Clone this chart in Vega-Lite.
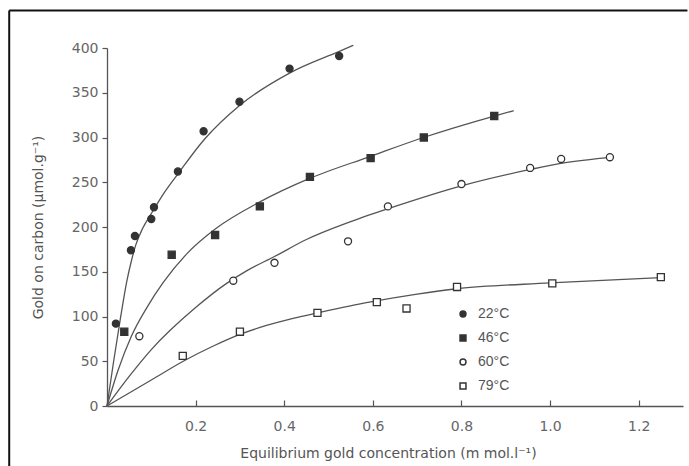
{
  "$schema": "https://vega.github.io/schema/vega-lite/v6.json",
  "width": 576,
  "height": 358,
  "autosize": {"type": "none"},
  "padding": {"left": 107, "top": 48, "right": 6, "bottom": 60},
  "background": "white",
  "config": {
    "view": {"stroke": null},
    "font": "DejaVu Sans",
    "axis": {"grid": false, "domainColor": "#555", "tickColor": "#555", "labelColor": "#666", "titleColor": "#555", "labelFontSize": 14, "titleFontSize": 14, "titleFontWeight": "normal", "domainWidth": 1.3, "tickWidth": 1.2}
  },
  "datasets": {
    "points": [
      {"x": 0.020, "y": 92, "temp": "22°C"},
      {"x": 0.054, "y": 174, "temp": "22°C"},
      {"x": 0.063, "y": 190, "temp": "22°C"},
      {"x": 0.100, "y": 209, "temp": "22°C"},
      {"x": 0.106, "y": 222, "temp": "22°C"},
      {"x": 0.160, "y": 262, "temp": "22°C"},
      {"x": 0.218, "y": 307, "temp": "22°C"},
      {"x": 0.299, "y": 340, "temp": "22°C"},
      {"x": 0.412, "y": 377, "temp": "22°C"},
      {"x": 0.524, "y": 391, "temp": "22°C"},
      {"x": 0.039, "y": 83, "temp": "46°C"},
      {"x": 0.146, "y": 169, "temp": "46°C"},
      {"x": 0.244, "y": 191, "temp": "46°C"},
      {"x": 0.345, "y": 223, "temp": "46°C"},
      {"x": 0.458, "y": 256, "temp": "46°C"},
      {"x": 0.595, "y": 277, "temp": "46°C"},
      {"x": 0.715, "y": 300, "temp": "46°C"},
      {"x": 0.874, "y": 324, "temp": "46°C"},
      {"x": 0.073, "y": 78, "temp": "60°C"},
      {"x": 0.285, "y": 140, "temp": "60°C"},
      {"x": 0.378, "y": 160, "temp": "60°C"},
      {"x": 0.544, "y": 184, "temp": "60°C"},
      {"x": 0.634, "y": 223, "temp": "60°C"},
      {"x": 0.800, "y": 248, "temp": "60°C"},
      {"x": 0.955, "y": 266, "temp": "60°C"},
      {"x": 1.025, "y": 276, "temp": "60°C"},
      {"x": 1.135, "y": 278, "temp": "60°C"},
      {"x": 0.171, "y": 56, "temp": "79°C"},
      {"x": 0.300, "y": 83, "temp": "79°C"},
      {"x": 0.475, "y": 104, "temp": "79°C"},
      {"x": 0.609, "y": 116, "temp": "79°C"},
      {"x": 0.676, "y": 109, "temp": "79°C"},
      {"x": 0.790, "y": 133, "temp": "79°C"},
      {"x": 1.005, "y": 137, "temp": "79°C"},
      {"x": 1.250, "y": 144, "temp": "79°C"}
    ],
    "curves": [
      {"x": 0, "y": 0, "series": "22"},
      {"x": 0.015, "y": 50, "series": "22"},
      {"x": 0.03, "y": 97, "series": "22"},
      {"x": 0.045, "y": 140, "series": "22"},
      {"x": 0.055, "y": 162, "series": "22"},
      {"x": 0.065, "y": 180, "series": "22"},
      {"x": 0.08, "y": 198, "series": "22"},
      {"x": 0.1, "y": 215, "series": "22"},
      {"x": 0.13, "y": 239, "series": "22"},
      {"x": 0.161, "y": 260, "series": "22"},
      {"x": 0.22, "y": 298, "series": "22"},
      {"x": 0.3, "y": 336, "series": "22"},
      {"x": 0.412, "y": 372, "series": "22"},
      {"x": 0.523, "y": 396, "series": "22"},
      {"x": 0.556, "y": 403, "series": "22"},
      {"x": 0, "y": 0, "series": "46"},
      {"x": 0.025, "y": 40, "series": "46"},
      {"x": 0.055, "y": 78, "series": "46"},
      {"x": 0.09, "y": 110, "series": "46"},
      {"x": 0.127, "y": 138, "series": "46"},
      {"x": 0.18, "y": 170, "series": "46"},
      {"x": 0.245, "y": 198, "series": "46"},
      {"x": 0.345, "y": 228, "series": "46"},
      {"x": 0.456, "y": 254, "series": "46"},
      {"x": 0.595, "y": 279, "series": "46"},
      {"x": 0.714, "y": 300, "series": "46"},
      {"x": 0.874, "y": 324, "series": "46"},
      {"x": 0.918, "y": 330, "series": "46"},
      {"x": 0, "y": 0, "series": "60"},
      {"x": 0.05, "y": 33, "series": "60"},
      {"x": 0.1, "y": 63, "series": "60"},
      {"x": 0.2, "y": 110, "series": "60"},
      {"x": 0.27, "y": 137, "series": "60"},
      {"x": 0.315, "y": 151, "series": "60"},
      {"x": 0.378, "y": 167, "series": "60"},
      {"x": 0.45, "y": 186, "series": "60"},
      {"x": 0.55, "y": 206, "series": "60"},
      {"x": 0.65, "y": 223, "series": "60"},
      {"x": 0.8, "y": 246, "series": "60"},
      {"x": 0.953, "y": 264, "series": "60"},
      {"x": 1.024, "y": 271, "series": "60"},
      {"x": 1.144, "y": 278, "series": "60"},
      {"x": 0, "y": 0, "series": "79"},
      {"x": 0.1, "y": 29, "series": "79"},
      {"x": 0.172, "y": 50, "series": "79"},
      {"x": 0.24, "y": 67, "series": "79"},
      {"x": 0.3, "y": 80, "series": "79"},
      {"x": 0.36, "y": 90, "series": "79"},
      {"x": 0.42, "y": 98, "series": "79"},
      {"x": 0.475, "y": 104, "series": "79"},
      {"x": 0.592, "y": 116, "series": "79"},
      {"x": 0.7, "y": 125, "series": "79"},
      {"x": 0.79, "y": 131, "series": "79"},
      {"x": 1.0, "y": 137.5, "series": "79"},
      {"x": 1.25, "y": 143.5, "series": "79"}
    ]
  },
  "layer": [
    {
      "data": {"name": "curves"},
      "mark": {"type": "line", "interpolate": "monotone", "color": "#555", "strokeWidth": 1.3},
      "encoding": {
        "x": {"field": "x", "type": "quantitative", "scale": {"domain": [0, 1.3], "nice": false, "zero": true},
          "axis": {"values": [0.2, 0.4, 0.6, 0.8, 1.0, 1.2], "format": ".1f", "tickSize": -6, "labelPadding": 19, "titlePadding": 13, "titleX": 281, "title": "Equilibrium gold concentration (m mol.l⁻¹)"}},
        "y": {"field": "y", "type": "quantitative", "scale": {"domain": [0, 400], "nice": false},
          "axis": {"values": [0, 50, 100, 150, 200, 250, 300, 350, 400], "tickSize": 5, "labelPadding": 4, "titlePadding": 26, "title": "Gold on carbon (μmol.g⁻¹)"}},
        "detail": {"field": "series"}
      }
    },
    {
      "data": {"name": "points"},
      "mark": {"type": "point", "size": 50, "strokeWidth": 1.3, "opacity": 1},
      "encoding": {
        "x": {"field": "x", "type": "quantitative"},
        "y": {"field": "y", "type": "quantitative"},
        "shape": {"field": "temp", "type": "nominal", "scale": {"domain": ["22°C", "46°C", "60°C", "79°C"], "range": ["circle", "square", "circle", "square"]},
          "legend": {"title": null, "orient": "none", "legendX": 349, "legendY": 259, "labelFontSize": 14, "labelFont": "Liberation Sans", "labelColor": "#555", "symbolSize": 35, "rowPadding": 10, "labelOffset": 8,
            "encode": {"symbols": {"update": {"stroke": {"value": "#333"}, "strokeWidth": {"value": 1.2}}}}}},
        "fill": {"field": "temp", "type": "nominal", "scale": {"domain": ["22°C", "46°C", "60°C", "79°C"], "range": ["#333", "#333", "#ffffff", "#ffffff"]},
          "legend": {"title": null, "orient": "none", "legendX": 349, "legendY": 259, "labelFontSize": 14, "labelFont": "Liberation Sans", "labelColor": "#555", "symbolSize": 35, "rowPadding": 10, "labelOffset": 8,
            "encode": {"symbols": {"update": {"stroke": {"value": "#333"}, "strokeWidth": {"value": 1.2}}}}}},
        "stroke": {"value": "#333"}
      }
    },
    {
      "data": {"values": [{}]},
      "mark": {"type": "rule", "color": "#111", "strokeWidth": 2},
      "encoding": {"x": {"datum": -0.2207}, "y": {"datum": -90}, "y2": {"datum": 442}}
    },
    {
      "data": {"values": [{}]},
      "mark": {"type": "rule", "color": "#111", "strokeWidth": 2},
      "encoding": {"x": {"datum": -0.2207}, "x2": {"datum": 1.31}, "y": {"datum": 442}}
    }
  ]
}
